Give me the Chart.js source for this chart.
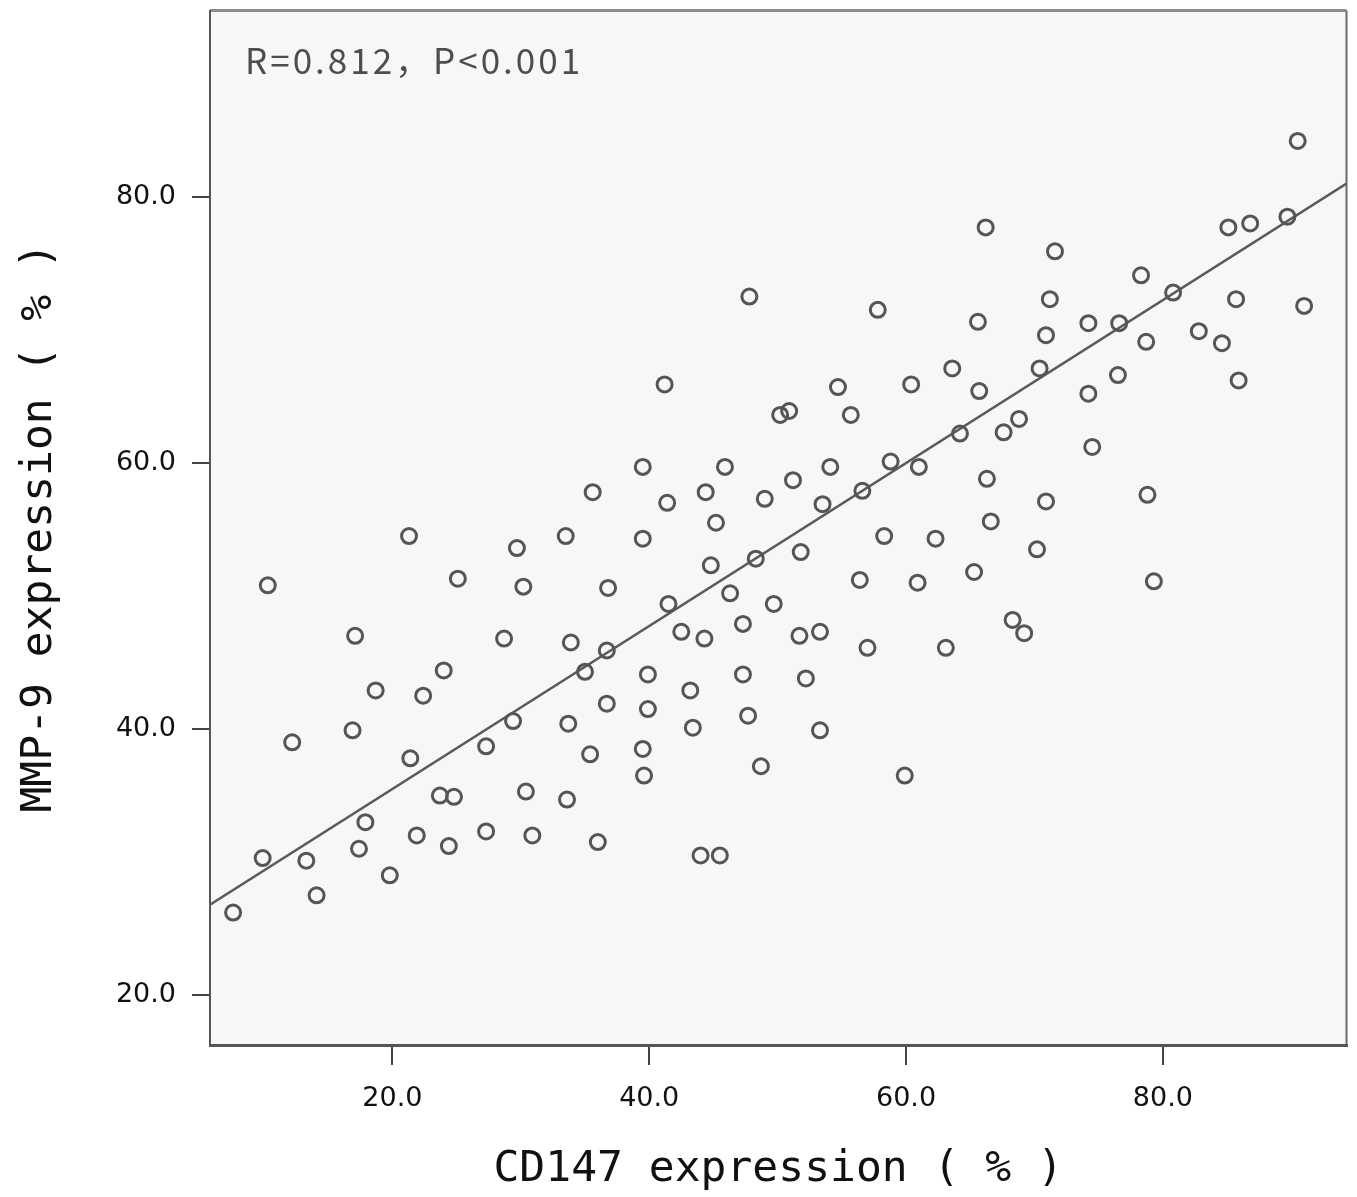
<!DOCTYPE html>
<html>
<head>
<meta charset="utf-8">
<script src="https://cdn.jsdelivr.net/npm/chart.js@4/dist/chart.umd.min.js"></script>
<style>
  body { margin: 0; background: #fff; }
  #wrap { width: 1357px; height: 1197px; }
</style>
</head>
<body>
<div id="wrap"><canvas id="chart" width="1357" height="1197"></canvas></div>
<script>
// CD147 expression (%) per case
let cd147 = [7.6, 9.9, 10.3, 12.2, 13.3, 14.1, 16.9, 17.1, 17.4, 17.9,
  18.7, 19.8, 21.3, 21.4, 21.9, 22.4, 24.0, 23.7, 24.8, 24.4,
  25.1, 27.3, 27.3, 28.7, 29.4, 29.7, 30.2, 30.4, 30.9, 33.6,
  33.7, 33.5, 33.9, 35.0, 35.4, 35.6, 36.0, 36.7, 36.7, 36.8,
  39.5, 39.5, 39.5, 39.6, 39.9, 39.9, 41.2, 41.4, 41.5, 42.5,
  43.2, 43.4, 44.0, 44.4, 44.3, 44.8, 45.2, 45.5, 45.9, 46.3,
  47.3, 47.3, 47.7, 47.8, 48.3, 48.7, 49.0, 49.7, 50.2, 50.9,
  51.2, 51.8, 51.7, 52.2, 53.3, 53.3, 53.5, 54.1, 54.7, 55.7,
  56.4, 56.6, 57.0, 57.8, 58.3, 58.8, 59.9, 60.4, 60.9, 61.0,
  62.3, 63.1, 63.6, 64.2, 65.3, 65.6, 65.7, 66.3, 66.2, 66.6,
  67.6, 68.3, 68.8, 69.2, 70.2, 70.4, 70.9, 70.9, 71.2, 71.6,
  74.2, 74.2, 74.5, 76.6, 76.5, 78.3, 78.7, 78.8, 79.3, 80.8,
  82.8, 84.6, 85.1, 85.7, 85.9, 86.8, 89.7, 90.5, 91.0];

// MMP-9 expression (%) per case, same order
let mmp9 = [26.2, 30.3, 50.8, 39.0, 30.1, 27.5, 39.9, 47.0, 31.0, 33.0,
  42.9, 29.0, 54.5, 37.8, 32.0, 42.5, 44.4, 35.0, 34.9, 31.2,
  51.3, 38.7, 32.3, 46.8, 40.6, 53.6, 50.7, 35.3, 32.0, 34.7,
  40.4, 54.5, 46.5, 44.3, 38.1, 57.8, 31.5, 41.9, 45.9, 50.6,
  59.7, 54.3, 38.5, 36.5, 41.5, 44.1, 65.9, 57.0, 49.4, 47.3,
  42.9, 40.1, 30.5, 57.8, 46.8, 52.3, 55.5, 30.5, 59.7, 50.2,
  47.9, 44.1, 41.0, 72.5, 52.8, 37.2, 57.3, 49.4, 63.6, 63.9,
  58.7, 53.3, 47.0, 43.8, 47.3, 39.9, 56.9, 59.7, 65.7, 63.6,
  51.2, 57.9, 46.1, 71.5, 54.5, 60.1, 36.5, 65.9, 51.0, 59.7,
  54.3, 46.1, 67.1, 62.2, 51.8, 70.6, 65.4, 58.8, 77.7, 55.6,
  62.3, 48.2, 63.3, 47.2, 53.5, 67.1, 69.6, 57.1, 72.3, 75.9,
  70.5, 65.2, 61.2, 70.5, 66.6, 74.1, 69.1, 57.6, 51.1, 72.8,
  69.9, 69.0, 77.7, 72.3, 66.2, 78.0, 78.5, 84.2, 71.8];

// regression line end points
let fitX = [5.8, 94.3];
let fitY = [26.8, 81.0];

let xTicks = [20, 40, 60, 80];
let yTicks = [20, 40, 60, 80];
let statsLabel = "R=0.812，P<0.001";

let scatterPoints = cd147.map((x, i) => ({ x: x, y: mmp9[i] }));
let fitPoints = fitX.map((x, i) => ({ x: x, y: fitY[i] }));

const framePlugin = {
  id: "frame",
  beforeDraw(chart) {
    const { ctx, chartArea: a } = chart;
    ctx.save();
    ctx.fillStyle = "#ffffff";
    ctx.fillRect(0, 0, chart.width, chart.height);
    ctx.fillStyle = "#f7f7f7";
    ctx.fillRect(a.left, a.top, a.right - a.left, a.bottom - a.top);
    // top and right edges of the box
    ctx.strokeStyle = "#8c8c8c";
    ctx.lineWidth = 3;
    ctx.beginPath();
    ctx.moveTo(a.left, a.top);
    ctx.lineTo(a.right, a.top);
    ctx.stroke();
    ctx.strokeStyle = "#6a6a6a";
    ctx.lineWidth = 2;
    ctx.beginPath();
    ctx.moveTo(a.right, a.top);
    ctx.lineTo(a.right, a.bottom);
    ctx.stroke();
    ctx.restore();
  },
  afterDraw(chart) {
    const { ctx, chartArea: a } = chart;
    ctx.save();
    ctx.font = '35px "Noto Sans CJK SC", sans-serif';
    ctx.letterSpacing = "3px";
    ctx.fillStyle = "#4d4d4d";
    ctx.textBaseline = "alphabetic";
    ctx.fillText(statsLabel, a.left + 35, a.top + 63);
    ctx.restore();
  }
};

let chart = new Chart(document.getElementById("chart"), {
  type: "scatter",
  data: {
    datasets: [
      {
        label: "cases",
        data: scatterPoints,
        pointStyle: "circle",
        pointRadius: 7.5,
        pointHoverRadius: 7.5,
        borderWidth: 3,
        borderColor: "#555555",
        backgroundColor: "rgba(0,0,0,0)"
      },
      {
        type: "line",
        label: "fit",
        data: fitPoints,
        borderColor: "#5a5a5a",
        borderWidth: 2.5,
        pointRadius: 0,
        fill: false
      }
    ]
  },
  plugins: [framePlugin],
  options: {
    responsive: false,
    animation: false,
    layout: { padding: { top: 10, right: 10, left: 0, bottom: 0 } },
    plugins: {
      legend: { display: false },
      tooltip: { enabled: false }
    },
    scales: {
      x: {
        type: "linear",
        min: 5.8,
        max: 94.3,
        afterFit: scale => {
          scale.height = 152;
          scale.paddingLeft = 0;
          scale.paddingRight = 0;
        },
        afterBuildTicks: scale => { scale.ticks = xTicks.map(v => ({ value: v })); },
        border: { display: true, color: "#555555", width: 3 },
        grid: { drawOnChartArea: false, drawTicks: true, tickLength: 20, color: "#444444", lineWidth: 2 },
        ticks: {
          padding: 18,
          color: "#111111",
          font: { family: "DejaVu Sans", size: 27 },
          callback: v => v.toFixed(1)
        },
        title: {
          display: true,
          text: "CD147 expression ( % )",
          color: "#111111",
          font: { family: "DejaVu Sans Mono", size: 43 },
          padding: { top: 0, bottom: 1 }
        }
      },
      y: {
        type: "linear",
        min: 16.25,
        max: 94,
        afterFit: scale => {
          scale.width = 210;
          scale.paddingTop = 0;
          scale.paddingBottom = 0;
        },
        afterBuildTicks: scale => { scale.ticks = yTicks.map(v => ({ value: v })); },
        border: { display: true, color: "#555555", width: 2 },
        grid: { drawOnChartArea: false, drawTicks: true, tickLength: 18, color: "#444444", lineWidth: 2 },
        ticks: {
          padding: 16,
          color: "#111111",
          font: { family: "DejaVu Sans", size: 27 },
          callback: v => v.toFixed(1)
        },
        title: {
          display: true,
          text: "MMP-9 expression ( % )",
          color: "#111111",
          font: { family: "DejaVu Sans Mono", size: 43 },
          padding: { top: 14, bottom: 0 }
        }
      }
    }
  }
});
</script>
</body>
</html>
